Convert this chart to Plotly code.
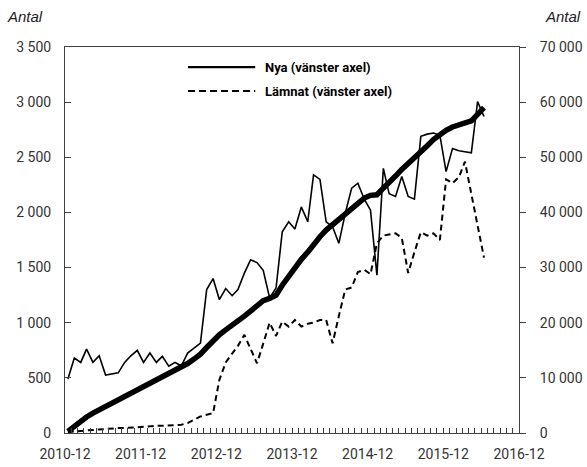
import pandas as pd
import plotly.graph_objects as go

# monthly observations, 2010-12 .. 2016-06
months = pd.date_range("2010-12-01", periods=67, freq="MS") + pd.Timedelta(days=14)

nya = [490, 680, 640, 760, 640, 700, 525, 535, 545, 640, 700, 750,
       640, 725, 640, 695, 605, 640, 610, 725, 770, 815, 1300, 1400,
       1210, 1310, 1245, 1300, 1450, 1570, 1545, 1475, 1225, 1315, 1825, 1915,
       1850, 2050, 1915, 2340, 2300, 1915, 1870, 1720, 1990, 2220, 2265, 2120,
       2020, 1430, 2400, 2170, 2145, 2325, 2145, 2120, 2690, 2710, 2720, 2700,
       2370, 2580, 2560, 2550, 2540, 3005, 2870]

lamnat = [10, 15, 20, 25, 30, 30, 35, 40, 45, 45, 50, 55,
          55, 60, 65, 65, 70, 70, 75, 90, 120, 150, 165, 180,
          480, 640, 720, 790, 890, 760, 632, 810, 1000, 880, 1010, 965,
          1025, 965, 990, 1000, 1025, 1025, 813, 1060, 1300, 1320, 1460, 1480,
          1440, 1720, 1790, 1800, 1810, 1770, 1450, 1640, 1820, 1790, 1810, 1750,
          2300, 2265, 2320, 2460, 2170, 1880, 1590]

# right axis series
total = [300, 1300, 2100, 2900, 3600, 4200, 4700, 5300, 5800, 6400, 7000, 7700,
         8300, 8900, 9500, 10100, 10700, 11300, 11900, 12600, 13400, 14300, 15500, 16700,
         17800, 18700, 19500, 20300, 21200, 22100, 23100, 24000, 24400, 25000, 26800, 28500,
         30000, 31500, 32800, 34200, 35600, 36800, 37800, 38800, 39700, 40600, 41600, 42600,
         43100, 43200, 44400, 45600, 46600, 47800, 48800, 49900, 51100, 52100, 53200, 54200,
         54900, 55500, 55800, 56200, 56600, 57800, 59000]

legend_names = ["Nya (vänster axel)", "Lämnat (vänster axel)"]

tick_font = dict(family="Roboto, sans-serif", size=14, color="#333333")
axis_col = "#404040"

fig = go.Figure()

fig.add_trace(go.Scatter(x=months, y=total, mode="lines", yaxis="y2",
                         line=dict(color="black", width=5.5), showlegend=False))
fig.add_trace(go.Scatter(x=months, y=nya, mode="lines", name=legend_names[0],
                         line=dict(color="black", width=1.6), showlegend=False))
fig.add_trace(go.Scatter(x=months, y=lamnat, mode="lines", name=legend_names[1],
                         line=dict(color="black", width=2, dash="6px,4px"), showlegend=False))

# legend drawn by hand so the sample lines match the original length
leg_y = [0.948, 0.886]
for name, yy, dash in zip(legend_names, leg_y, ["solid", "7px,4px"]):
    fig.add_shape(type="line", xref="paper", yref="paper", x0=0.271, x1=0.419, y0=yy, y1=yy,
                  line=dict(color="black", width=2.2, dash=dash))
    fig.add_annotation(text="<b>" + name + "</b>", xref="paper", yref="paper", x=0.436, y=yy,
                       xanchor="left", yanchor="middle", showarrow=False,
                       font=dict(family="Roboto, sans-serif", size=13, color="black"))

for txt, xx, anchor in [("Antal", -0.132, "left"), ("Antal", 1.141, "right")]:
    fig.add_annotation(text="<i>" + txt + "</i>", xref="paper", yref="paper", x=xx, y=1.078,
                       xanchor=anchor, yanchor="middle", showarrow=False,
                       font=dict(family="Liberation Sans, Arial, sans-serif", size=15, color="#222222"))

fig.update_layout(
    width=587, height=467,
    margin=dict(l=65, r=68, t=47, b=34, autoexpand=False),
    plot_bgcolor="white", paper_bgcolor="white",
    separators=", ",
    showlegend=False,
    xaxis=dict(
        type="date", range=["2010-12-01", "2016-12-01"], automargin=False,
        tick0="2010-12-01", dtick="M12", tickformat="%Y-%m",
        ticks="inside", ticklen=5, tickcolor=axis_col,
        minor=dict(dtick="M1", ticks="inside", ticklen=5, tickcolor=axis_col, showgrid=False),
        showgrid=False, zeroline=False,
        showline=True, linecolor=axis_col, linewidth=1, mirror=True,
        tickfont=tick_font, ticklabelstandoff=8,
    ),
    yaxis=dict(
        range=[0, 3500], dtick=500, tickformat=",", automargin=False,
        ticks="inside", ticklen=6, tickcolor=axis_col,
        showgrid=False, zeroline=False,
        showline=True, linecolor=axis_col, linewidth=1,
        tickfont=tick_font, ticklabelstandoff=10,
    ),
    yaxis2=dict(
        range=[0, 70000], dtick=10000, tickformat=",", automargin=False,
        overlaying="y", side="right",
        ticks="outside", ticklen=6, tickcolor=axis_col,
        showgrid=False, zeroline=False,
        showline=True, linecolor=axis_col, linewidth=1,
        tickfont=tick_font, ticklabelstandoff=11,
    ),
)

# page body has a default 8px margin; drop it so the figure sits at the window corner
fig.write_html("out.html", config={"displayModeBar": False},
               post_script="document.body.style.margin='0';")
